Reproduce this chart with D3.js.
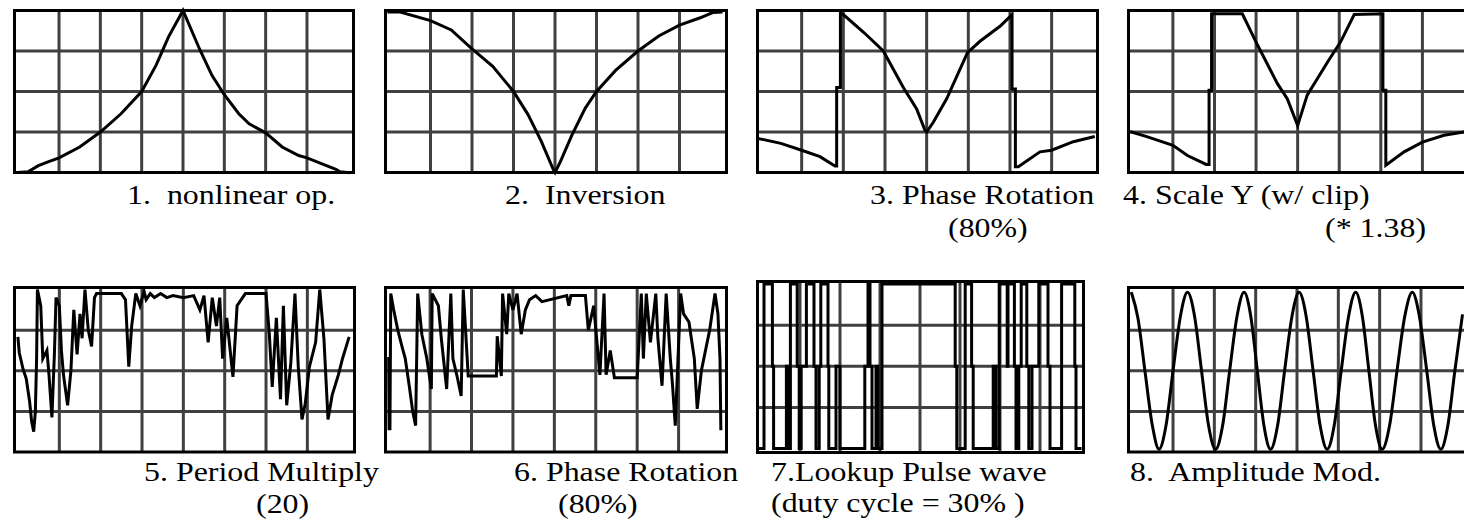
<!DOCTYPE html>
<html>
<head>
<meta charset="utf-8">
<script src="https://cdn.jsdelivr.net/npm/d3@7"></script>
<style>
  body { margin: 0; background: #fff; }
  svg { display: block; }
  text { font-family: "Liberation Serif", "Times New Roman", serif; font-size: 28px; fill: #000; white-space: pre; }
</style>
</head>
<body>
<div id="chart"></div>
<script>
// waveforms, [x, y] in grid units (x: 0..8 columns, y: 0..4 rows)
const wave1 = [[0,0],[0.25,0.02],[0.5,0.17],[0.75,0.27],[1,0.36],[1.5,0.63],[2,1.0],[2.5,1.45],[3,2.0],[3.35,2.65],[3.65,3.35],[4,4.0],
  [4.4,3.05],[4.7,2.4],[5,1.92],[5.35,1.45],[5.6,1.2],[6,0.98],[6.4,0.63],[6.8,0.42],[7,0.36],[7.35,0.22],[7.7,0.08],[7.8,0.02],[8,0]];
const wave2 = [[0,3.96],[0.27,3.96],[1,3.75],[1.5,3.52],[2,3.05],[2.5,2.62],[3,2.0],[3.35,1.43],[3.67,0.77],[3.96,0.07],[4,0],
  [4.13,0.27],[4.41,0.93],[4.73,1.59],[5,2.0],[5.46,2.52],[6,3.0],[6.5,3.37],[7,3.64],[7.5,3.82],[7.8,3.95],[8,3.96]];
const wave3 = [[0,0.83],[0.5,0.72],[1,0.55],[1.44,0.39],[1.8,0.16],[1.84,0.16],[1.84,2.1],[1.93,2.1],[1.93,3.94],[2.0,3.9],[2.5,3.45],
  [2.96,3.0],[3.44,2.1],[3.76,1.57],[3.96,1.04],[4.0,1.0],[4.16,1.24],[4.48,1.82],[4.98,2.96],[5.28,3.24],[5.76,3.61],[6.05,3.9],
  [6.05,2.06],[6.13,2.06],[6.13,0.14],[6.2,0.14],[6.72,0.51],[7,0.55],[7.52,0.76],[8,0.88]];
const wave4 = [[0,1.0],[0.39,0.88],[1,0.67],[1.35,0.42],[1.8,0.2],[1.87,0.2],[1.87,2.03],[1.93,2.03],[1.93,3.92],[2.67,3.92],[3.0,3.22],
  [3.51,2.2],[3.75,1.82],[4.0,1.16],[4.23,1.91],[4.72,2.73],[5.03,3.22],[5.36,3.9],[6.05,3.92],[6.05,2.03],[6.12,2.03],[6.12,0.18],
  [6.56,0.51],[7.0,0.75],[7.52,0.92],[8,1.0]];
const wave5 = [[0,2.8],[0.03,2.45],[0.12,2.05],[0.2,1.8],[0.28,1.25],[0.33,0.75],[0.38,0.5],[0.42,1.0],[0.45,2.3],[0.47,4.0],[0.55,3.6],
  [0.6,2.3],[0.7,2.5],[0.75,1.9],[0.82,0.85],[0.88,2.4],[0.92,3.8],[1.0,3.6],[1.05,2.5],[1.1,1.9],[1.2,1.15],[1.28,2.0],[1.35,3.5],
  [1.43,2.4],[1.5,3.4],[1.55,2.8],[1.62,4.0],[1.7,3.0],[1.78,2.6],[1.85,3.8],[1.9,3.9],[2.5,3.9],[2.6,3.75],[2.68,2.1],[2.75,3.1],
  [2.85,3.9],[2.95,3.6],[3.05,3.95],[3.1,3.75],[3.2,3.9],[3.3,3.8],[3.45,3.9],[3.6,3.8],[3.75,3.85],[4.0,3.8],[4.25,3.85],[4.4,3.5],
  [4.5,3.85],[4.6,2.7],[4.7,3.8],[4.8,3.1],[4.88,3.8],[4.95,2.3],[5.05,3.3],[5.2,1.85],[5.3,3.6],[5.5,3.9],[6.0,3.9],[6.08,2.9],
  [6.15,1.6],[6.25,3.3],[6.35,1.3],[6.42,3.6],[6.5,1.15],[6.6,2.2],[6.7,3.9],[6.78,2.1],[6.87,0.8],[6.95,1.2],[7.05,2.1],[7.2,2.7],
  [7.3,4.0],[7.4,2.8],[7.5,0.8],[7.6,1.4],[7.75,1.9],[7.85,2.3],[8,2.8]];
const wave6 = [[0,2.3],[0.01,0.57],[0.03,0.57],[0.05,3.9],[0.12,3.5],[0.22,3.0],[0.32,2.6],[0.4,2.3],[0.5,1.6],[0.58,1.0],[0.65,0.65],
  [0.7,3.9],[0.8,2.9],[0.92,2.3],[1.03,1.55],[1.05,3.9],[1.2,3.6],[1.27,2.8],[1.4,1.55],[1.5,3.9],[1.55,2.3],[1.65,1.87],[1.75,1.38],
  [1.8,4.0],[1.92,1.87],[2.6,1.87],[2.62,2.85],[2.72,1.87],[2.75,3.9],[2.85,2.9],[2.9,3.9],[3.0,3.5],[3.1,3.9],[3.2,2.9],[3.3,3.5],
  [3.4,3.75],[3.55,3.85],[3.7,3.7],[4.3,3.85],[4.35,3.6],[4.4,3.85],[4.75,3.85],[4.82,3.0],[4.95,3.6],[5.1,1.9],[5.2,3.9],[5.25,1.9],
  [5.35,2.5],[5.45,1.83],[6.0,1.83],[6.05,2.85],[6.1,3.9],[6.15,2.3],[6.22,3.9],[6.32,2.7],[6.45,3.9],[6.5,2.8],[6.6,1.63],[6.7,3.9],
  [6.8,2.3],[6.85,1.7],[6.92,0.65],[7.05,3.9],[7.12,3.4],[7.25,3.2],[7.38,2.3],[7.45,1.06],[7.55,2.0],[7.75,3.0],[7.88,3.9],[7.95,3.4],
  [8.0,2.3],[8.02,0.57]];
// pulse wave: [x, level], held until next x
const wave7 = [[0,0],[0.1,4],[0.31,2],[0.34,0],[0.66,2],[0.7,0],[0.76,4],[0.93,2],[0.98,0],[1.03,2],[1.16,4],[1.35,2],[1.4,0],
  [1.48,2],[1.52,4],[1.7,2],[1.72,0],[1.9,2],[2.0,0],[2.62,2],[2.7,4],[2.75,2],[2.8,0],[2.9,2],[2.95,0],[3.05,4],[4.88,2],[4.92,0],
  [5.13,4],[5.29,2],[5.33,0],[5.83,2],[5.9,0],[5.98,4],[6.18,2],[6.2,4],[6.36,2],[6.4,0],[6.47,2],[6.53,4],[6.67,2],[6.72,0],
  [6.8,2],[6.97,4],[7.2,2],[7.25,0],[7.54,4],[7.87,2],[7.9,0],[8,0]];
const wave8 = [[0,3.9],[0.15,3.3],[0.32,2.0],[0.5,0.65],[0.66,0.07],[0.83,0.65],[1.0,2.0],[1.18,3.35],[1.35,3.93],[1.52,3.35],[1.69,2.0],
  [1.86,0.65],[2.03,0.07],[2.2,0.65],[2.37,2.0],[2.55,3.35],[2.72,3.93],[2.88,3.35],[3.04,2.0],[3.2,0.65],[3.36,0.07],[3.53,0.65],
  [3.7,2.0],[3.88,3.35],[4.05,3.93],[4.22,3.35],[4.39,2.0],[4.56,0.65],[4.73,0.07],[4.9,0.65],[5.07,2.0],[5.25,3.35],[5.42,3.93],
  [5.58,3.35],[5.74,2.0],[5.9,0.65],[6.06,0.07],[6.24,0.65],[6.42,2.0],[6.61,3.35],[6.79,3.93],[6.96,3.35],[7.14,2.0],[7.31,0.65],
  [7.48,0.07],[7.65,0.65],[7.82,2.0],[8.0,3.35]];

const captions = [
  ["1.  nonlinear op."], ["2.  Inversion"], ["3. Phase Rotation", "(80%)"], ["4. Scale Y (w/ clip)", "(* 1.38)"],
  ["5. Period Multiply", "(20)"], ["6. Phase Rotation", "(80%)"], ["7.Lookup Pulse wave", "(duty cycle = 30% )"], ["8.  Amplitude Mod."]
];

// layout: grid = [left, right, top, bottom] of the 8x4 grid, frame = stroke centre of the border
const panels = [
  { wave: wave1, grid: [17.7, 348.3, 10.5, 172.5], frame: [14.5, 353.5, 10.5, 172.5], cap: [[127, 204]] },
  { wave: wave2, grid: [389, 721, 10.5, 172.5], frame: [385.5, 726.5, 10.5, 172.5], cap: [[505, 204]] },
  { wave: wave3, grid: [760, 1093.3, 10.5, 172.5], frame: [757.5, 1097.5, 10.5, 172.5], cap: [[870, 204], [948, 237]] },
  { wave: wave4, grid: [1131.3, 1464, 10.5, 172.5], frame: [1128.5, 1467.5, 10.5, 172.5], cap: [[1123, 204], [1325, 237]] },
  { wave: wave5, grid: [18, 348.7, 289.5, 452], frame: [14.5, 354.5, 287.5, 452], cap: [[144, 481], [256, 513]] },
  { wave: wave6, grid: [388.7, 720, 289.5, 452], frame: [385.5, 726.5, 287.5, 452], cap: [[514, 481], [558, 513]] },
  { wave: wave7, grid: [760, 1080, 284, 448.5], frame: [757.5, 1083.5, 281.5, 452.5], cap: [[771, 481], [771, 512]], curve: d3.curveStepAfter },
  { wave: wave8, grid: [1131.7, 1462.3, 289.5, 452], frame: [1128.5, 1467.5, 287.5, 452], cap: [[1130, 481]], curve: d3.curveMonotoneX }
];
const textStretch = 1.14;

const svg = d3.select("#chart").append("svg").attr("width", 1464).attr("height", 524);

panels.forEach((p, i) => {
  const [gl, gr, gt, gb] = p.grid;
  const x = d3.scaleLinear().domain([0, 8]).range([gl, gr]);
  const y = d3.scaleLinear().domain([0, 4]).range([gb, gt]);
  const g = svg.append("g");

  g.selectAll(".vline").data(x.ticks(8).slice(1, -1)).enter().append("line")
    .attr("x1", d => x(d)).attr("x2", d => x(d))
    .attr("y1", p.frame[2]).attr("y2", p.frame[3])
    .attr("stroke", "#404040").attr("stroke-width", 3);
  g.selectAll(".hline").data(y.ticks(4).slice(1, -1)).enter().append("line")
    .attr("x1", p.frame[0]).attr("x2", p.frame[1])
    .attr("y1", d => y(d)).attr("y2", d => y(d))
    .attr("stroke", "#404040").attr("stroke-width", 3);

  g.append("rect")
    .attr("x", p.frame[0]).attr("y", p.frame[2])
    .attr("width", p.frame[1] - p.frame[0]).attr("height", p.frame[3] - p.frame[2])
    .attr("fill", "none").attr("stroke", "#000").attr("stroke-width", 3);

  const line = d3.line()
    .x(d => x(d[0])).y(d => y(d[1]))
    .curve(p.curve || d3.curveLinear);
  g.append("path").datum(p.wave)
    .attr("d", line)
    .attr("fill", "none").attr("stroke", "#000").attr("stroke-width", 3)
    .attr("stroke-linejoin", "miter").attr("stroke-linecap", "square");

  captions[i].forEach((t, j) => {
    g.append("text")
      .attr("transform", `translate(${p.cap[j][0]},${p.cap[j][1]}) scale(${textStretch},1)`)
      .text(t);
  });
});
</script>
</body>
</html>
